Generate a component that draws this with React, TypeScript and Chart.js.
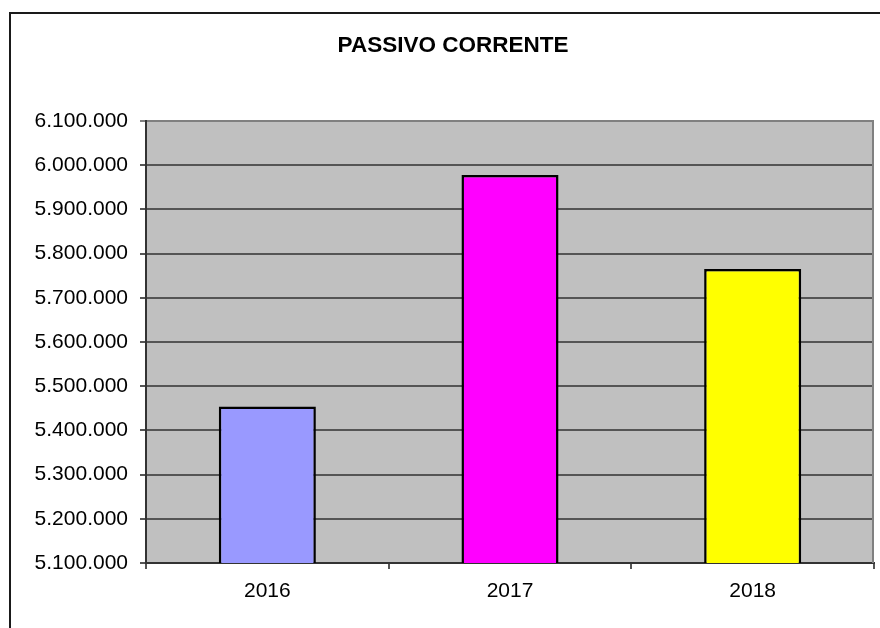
import React, { useEffect, useRef } from 'react';
import { Chart, registerables } from 'chart.js';

Chart.register(...registerables);

const chartTitle = 'PASSIVO CORRENTE';
const categories = ['2016', '2017', '2018'];
const values = [5454000, 5978000, 5765000];
const barColors = ['#9999FF', '#FF00FF', '#FFFF00'];
const yMin = 5100000;
const yMax = 6100000;
const yStep = 100000;

const FONT = '"Liberation Sans", Arial, sans-serif';

function fmt(v: number): string {
  return Math.round(v)
    .toString()
    .replace(/\B(?=(\d{3})+(?!\d))/g, '.');
}

const framePlugin = {
  id: 'framePlugin',
  beforeDraw(chart: any) {
    const { ctx, chartArea, width, height } = chart;
    ctx.save();
    ctx.fillStyle = '#FFFFFF';
    ctx.fillRect(0, 0, width, height);
    ctx.fillStyle = '#C0C0C0';
    ctx.fillRect(chartArea.left, chartArea.top, chartArea.right - chartArea.left, chartArea.bottom - chartArea.top);
    ctx.strokeStyle = '#1a1a1a';
    ctx.lineWidth = 2;
    ctx.beginPath();
    ctx.moveTo(10, height + 2);
    ctx.lineTo(10, 13);
    ctx.lineTo(width + 2, 13);
    ctx.stroke();
    ctx.restore();
  },
  afterDraw(chart: any) {
    const { ctx, chartArea } = chart;
    ctx.save();
    ctx.strokeStyle = '#808080';
    ctx.lineWidth = 2;
    ctx.beginPath();
    ctx.moveTo(chartArea.right - 1, chartArea.top);
    ctx.lineTo(chartArea.right - 1, chartArea.bottom);
    ctx.stroke();
    ctx.fillStyle = '#000000';
    ctx.font = 'bold 22.5px ' + FONT;
    ctx.textAlign = 'center';
    ctx.textBaseline = 'middle';
    ctx.fillText(chartTitle, 453, 46);
    ctx.restore();
  },
};

export default function App() {
  const canvasRef = useRef<HTMLCanvasElement | null>(null);

  useEffect(() => {
    if (!canvasRef.current) return;
    const chart = new Chart(canvasRef.current, {
      type: 'bar',
      data: {
        labels: categories,
        datasets: [
          {
            data: values,
            backgroundColor: barColors,
            borderColor: '#000000',
            borderWidth: 2.5,
            borderSkipped: false,
            categoryPercentage: 1,
            barPercentage: 0.4,
          },
        ],
      },
      options: {
        responsive: false,
        animation: false,
        devicePixelRatio: 1,
        layout: { padding: { top: 121, right: 6, left: 0, bottom: 0 } },
        plugins: {
          legend: { display: false },
          title: { display: false },
          tooltip: { enabled: false },
        },
        scales: {
          x: {
            offset: true,
            grid: {
              display: true,
              drawOnChartArea: false,
              drawTicks: true,
              tickLength: 6,
              color: '#555555',
              lineWidth: 2,
            },
            border: { display: true, color: '#333333', width: 2 },
            ticks: {
              color: '#000000',
              font: { family: FONT, size: 21 },
              padding: 10,
            },
            afterFit(scale: any) {
              scale.height = 65;
            },
          },
          y: {
            min: yMin,
            max: yMax,
            grid: {
              display: true,
              drawTicks: true,
              tickLength: 6,
              color: (c: any) => (c.tick && c.tick.value === yMax ? '#808080' : '#555555'),
              lineWidth: 2,
            },
            border: { display: true, color: '#333333', width: 2 },
            ticks: {
              stepSize: yStep,
              color: '#000000',
              font: { family: FONT, size: 21 },
              padding: 12,
              callback: (v: any) => fmt(Number(v)),
            },
            afterFit(scale: any) {
              scale.width = 146;
            },
          },
        },
      },
      plugins: [framePlugin],
    });
    return () => chart.destroy();
  }, []);

  return (
    <div style={{ position: 'absolute', left: 0, top: 0, width: 880, height: 628 }}>
      <canvas ref={canvasRef} width={880} height={628} style={{ display: 'block', width: 880, height: 628 }} />
    </div>
  );
}
